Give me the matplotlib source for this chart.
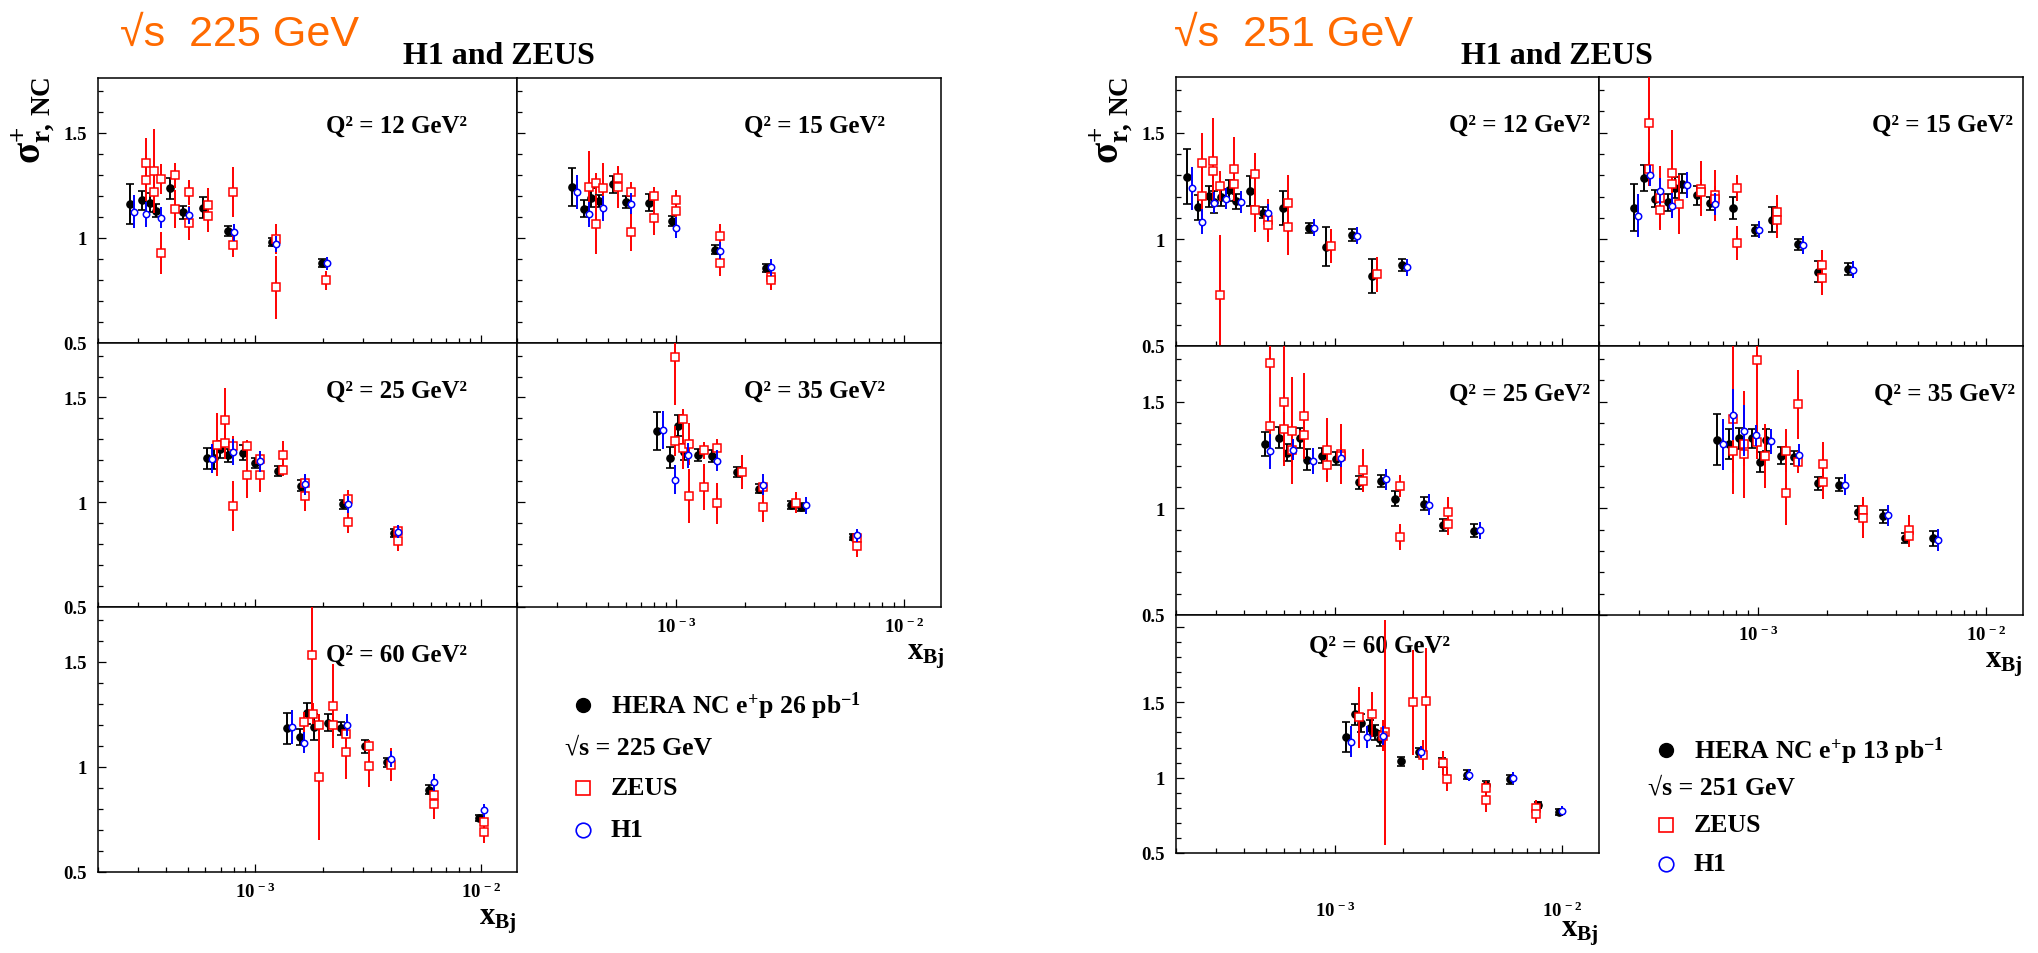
import numpy as np
import matplotlib
matplotlib.use("Agg")
import matplotlib.pyplot as plt
from matplotlib.ticker import FixedLocator, LogLocator, MultipleLocator, NullFormatter, FuncFormatter
from matplotlib.lines import Line2D

plt.rcParams['font.family'] = ['Liberation Serif', 'DejaVu Serif']
plt.rcParams['font.weight'] = 'bold'
plt.rcParams['mathtext.fontset'] = 'custom'
plt.rcParams['mathtext.rm'] = 'Liberation Serif'
plt.rcParams['mathtext.bf'] = 'Liberation Serif:bold'
plt.rcParams['mathtext.it'] = 'Liberation Serif:italic'

# ---- data: (x_Bj, sigma_r, error) ----
# sqrt(s) = 225 GeV
L12_HERA = [(2.76e-4, 1.160, 0.095), (3.13e-4, 1.179, 0.045), (3.40e-4, 1.168, 0.045), (3.62e-4, 1.129, 0.03),
            (4.19e-4, 1.235, 0.05), (4.78e-4, 1.121, 0.03), (5.88e-4, 1.143, 0.05), (7.58e-4, 1.032, 0.025),
            (1.18e-3, 0.981, 0.02), (1.97e-3, 0.879, 0.02)]
L12_H1 = [(2.90e-4, 1.125, 0.08), (3.27e-4, 1.111, 0.06), (3.79e-4, 1.095, 0.05), (5.05e-4, 1.108, 0.04),
          (8.01e-4, 1.027, 0.04), (1.24e-3, 0.971, 0.04), (2.07e-3, 0.879, 0.03)]
L12_ZEUS = [(3.27e-4, 1.357, 0.12), (3.27e-4, 1.275, 0.1), (3.56e-4, 1.317, 0.2), (3.56e-4, 1.219, 0.08),
            (3.80e-4, 1.279, 0.07), (3.80e-4, 0.927, 0.1), (4.41e-4, 1.298, 0.06), (4.41e-4, 1.138, 0.09),
            (5.05e-4, 1.217, 0.06), (5.05e-4, 1.071, 0.08), (6.17e-4, 1.157, 0.08), (6.17e-4, 1.106, 0.08),
            (7.96e-4, 1.217, 0.12), (7.96e-4, 0.967, 0.06), (1.24e-3, 0.995, 0.07), (1.24e-3, 0.765, 0.15),
            (2.06e-3, 0.798, 0.045)]

L15_HERA = [(3.48e-4, 1.243, 0.09), (3.94e-4, 1.138, 0.04), (4.23e-4, 1.190, 0.045), (4.56e-4, 1.175, 0.03),
            (5.29e-4, 1.254, 0.04), (6.04e-4, 1.171, 0.03), (7.61e-4, 1.168, 0.04), (9.57e-4, 1.081, 0.025),
            (1.48e-3, 0.944, 0.02), (2.47e-3, 0.857, 0.02)]
L15_H1 = [(3.66e-4, 1.219, 0.08), (4.14e-4, 1.111, 0.06), (4.79e-4, 1.140, 0.06), (6.34e-4, 1.162, 0.05),
          (1.00e-3, 1.049, 0.05), (1.55e-3, 0.938, 0.04), (2.59e-3, 0.859, 0.04)]
L15_ZEUS = [(4.14e-4, 1.243, 0.17), (4.44e-4, 1.259, 0.05), (4.44e-4, 1.065, 0.14), (4.79e-4, 1.235, 0.12),
            (5.57e-4, 1.286, 0.05), (5.57e-4, 1.243, 0.1), (6.34e-4, 1.216, 0.05), (6.34e-4, 1.029, 0.09),
            (8.02e-4, 1.200, 0.04), (8.02e-4, 1.092, 0.08), (1.00e-3, 1.179, 0.05), (1.00e-3, 1.129, 0.05),
            (1.55e-3, 1.008, 0.06), (1.55e-3, 0.879, 0.06), (2.59e-3, 0.813, 0.05), (2.59e-3, 0.800, 0.05)]

L25_HERA = [(6.08e-4, 1.211, 0.05), (6.52e-4, 1.211, 0.05), (6.94e-4, 1.252, 0.04), (7.56e-4, 1.224, 0.03),
            (8.77e-4, 1.237, 0.035), (1.00e-3, 1.187, 0.025), (1.26e-3, 1.148, 0.025), (1.59e-3, 1.079, 0.025),
            (2.46e-3, 0.990, 0.02), (4.11e-3, 0.854, 0.02)]
L25_H1 = [(6.43e-4, 1.208, 0.07), (7.96e-4, 1.240, 0.06), (1.05e-3, 1.195, 0.05), (1.66e-3, 1.086, 0.05),
          (2.58e-3, 0.990, 0.04), (4.31e-3, 0.859, 0.03)]
L25_ZEUS = [(6.74e-4, 1.275, 0.15), (7.30e-4, 1.394, 0.15), (7.30e-4, 1.284, 0.08), (7.93e-4, 1.268, 0.05),
            (7.93e-4, 0.983, 0.12), (9.20e-4, 1.268, 0.03), (9.20e-4, 1.130, 0.11), (1.05e-3, 1.205, 0.04),
            (1.05e-3, 1.130, 0.08), (1.33e-3, 1.224, 0.07), (1.33e-3, 1.156, 0.03), (1.66e-3, 1.092, 0.04),
            (1.66e-3, 1.030, 0.07), (2.58e-3, 1.017, 0.04), (2.58e-3, 0.905, 0.05), (4.31e-3, 0.863, 0.03),
            (4.31e-3, 0.816, 0.05)]

L35_HERA = [(8.26e-4, 1.339, 0.09), (9.37e-4, 1.212, 0.05), (1.02e-3, 1.365, 0.05), (1.08e-3, 1.240, 0.04),
            (1.25e-3, 1.225, 0.03), (1.44e-3, 1.220, 0.03), (1.84e-3, 1.145, 0.025), (2.30e-3, 1.065, 0.02),
            (3.19e-3, 0.986, 0.02), (3.54e-3, 0.978, 0.02), (5.94e-3, 0.833, 0.015)]
L35_H1 = [(8.73e-4, 1.344, 0.09), (9.87e-4, 1.108, 0.07), (1.13e-3, 1.225, 0.06), (1.51e-3, 1.197, 0.05),
          (2.39e-3, 1.084, 0.05), (3.72e-3, 0.986, 0.04), (6.19e-3, 0.842, 0.03)]
L35_ZEUS = [(9.87e-4, 1.694, 0.23), (9.87e-4, 1.293, 0.07), (1.07e-3, 1.396, 0.05), (1.07e-3, 1.260, 0.1),
            (1.14e-3, 1.279, 0.1), (1.14e-3, 1.030, 0.13), (1.32e-3, 1.248, 0.04), (1.32e-3, 1.072, 0.11),
            (1.51e-3, 1.261, 0.04), (1.51e-3, 0.994, 0.1), (1.94e-3, 1.145, 0.08), (2.41e-3, 1.073, 0.03),
            (2.41e-3, 0.978, 0.07), (3.35e-3, 0.997, 0.05), (6.19e-3, 0.831, 0.03), (6.19e-3, 0.791, 0.05)]

L60_HERA = [(1.38e-3, 1.183, 0.075), (1.58e-3, 1.142, 0.04), (1.70e-3, 1.255, 0.05), (1.82e-3, 1.189, 0.06),
            (2.10e-3, 1.209, 0.04), (2.41e-3, 1.183, 0.03), (3.05e-3, 1.097, 0.03), (3.82e-3, 1.021, 0.02),
            (5.92e-3, 0.892, 0.02), (9.87e-3, 0.756, 0.015)]
L60_H1 = [(1.45e-3, 1.188, 0.08), (1.64e-3, 1.115, 0.05), (2.54e-3, 1.199, 0.05), (3.99e-3, 1.037, 0.04),
          (6.21e-3, 0.927, 0.04), (1.03e-2, 0.793, 0.03)]
L60_ZEUS = [(1.78e-3, 1.530, 0.3), (1.65e-3, 1.212, 0.05), (1.81e-3, 1.252, 0.05), (1.91e-3, 1.201, 0.05),
            (1.91e-3, 0.951, 0.3), (2.21e-3, 1.291, 0.2), (2.21e-3, 1.199, 0.05), (2.52e-3, 1.158, 0.04),
            (2.52e-3, 1.072, 0.13), (3.20e-3, 1.097, 0.03), (3.20e-3, 1.002, 0.1), (3.99e-3, 1.011, 0.08),
            (6.21e-3, 0.868, 0.04), (6.21e-3, 0.822, 0.07), (1.03e-2, 0.740, 0.03), (1.03e-2, 0.689, 0.05)]

# sqrt(s) = 251 GeV
R12_HERA = [(2.24e-4, 1.293, 0.13), (2.49e-4, 1.149, 0.06), (2.79e-4, 1.201, 0.05), (2.94e-4, 1.174, 0.05),
            (3.16e-4, 1.196, 0.04), (3.43e-4, 1.229, 0.05), (3.66e-4, 1.179, 0.035), (4.22e-4, 1.227, 0.07),
            (4.83e-4, 1.125, 0.025), (5.93e-4, 1.146, 0.08), (7.67e-4, 1.053, 0.025), (9.09e-4, 0.966, 0.09),
            (1.19e-3, 1.020, 0.03), (1.46e-3, 0.828, 0.08), (1.97e-3, 0.879, 0.03)]
R12_H1 = [(2.35e-4, 1.238, 0.1), (2.61e-4, 1.083, 0.06), (2.94e-4, 1.171, 0.05), (3.33e-4, 1.190, 0.05),
          (3.85e-4, 1.174, 0.05), (5.07e-4, 1.125, 0.04), (8.05e-4, 1.053, 0.04), (1.25e-3, 1.017, 0.04),
          (2.07e-3, 0.868, 0.04)]
R12_ZEUS = [(2.61e-4, 1.359, 0.14), (2.61e-4, 1.202, 0.15), (2.92e-4, 1.368, 0.2), (2.92e-4, 1.320, 0.1),
            (3.11e-4, 1.249, 0.07), (3.11e-4, 0.741, 0.28), (3.61e-4, 1.328, 0.15), (3.61e-4, 1.257, 0.07),
            (4.44e-4, 1.304, 0.1), (4.44e-4, 1.135, 0.1), (5.07e-4, 1.088, 0.1), (5.07e-4, 1.069, 0.06),
            (6.22e-4, 1.171, 0.13), (6.22e-4, 1.056, 0.13), (9.60e-4, 0.967, 0.08), (1.53e-3, 0.835, 0.08)]

R15_HERA = [(2.84e-4, 1.147, 0.11), (3.16e-4, 1.287, 0.06), (3.53e-4, 1.190, 0.04), (4.01e-4, 1.174, 0.04),
            (4.29e-4, 1.241, 0.05), (4.62e-4, 1.260, 0.045), (5.37e-4, 1.205, 0.045), (6.11e-4, 1.169, 0.03),
            (7.71e-4, 1.147, 0.05), (9.66e-4, 1.042, 0.025), (1.15e-3, 1.092, 0.06), (1.49e-3, 0.976, 0.025),
            (1.83e-3, 0.848, 0.05), (2.48e-3, 0.861, 0.03)]
R15_H1 = [(2.98e-4, 1.111, 0.1), (3.34e-4, 1.299, 0.05), (3.70e-4, 1.226, 0.06), (4.18e-4, 1.158, 0.06),
          (4.85e-4, 1.255, 0.06), (6.43e-4, 1.165, 0.05), (1.01e-3, 1.045, 0.04), (1.57e-3, 0.973, 0.04),
          (2.61e-3, 0.857, 0.04)]
R15_ZEUS = [(3.32e-4, 1.544, 0.25), (3.32e-4, 1.328, 0.08), (3.70e-4, 1.193, 0.15), (3.70e-4, 1.135, 0.08),
            (4.20e-4, 1.310, 0.2), (4.20e-4, 1.257, 0.06), (4.51e-4, 1.163, 0.14), (5.61e-4, 1.237, 0.13),
            (5.61e-4, 1.221, 0.06), (6.43e-4, 1.205, 0.12), (6.43e-4, 1.190, 0.06), (8.08e-4, 1.241, 0.06),
            (8.08e-4, 0.984, 0.08), (1.21e-3, 1.127, 0.08), (1.21e-3, 1.088, 0.08), (1.91e-3, 0.881, 0.07),
            (1.91e-3, 0.817, 0.08)]

R25_HERA = [(4.93e-4, 1.302, 0.055), (5.69e-4, 1.330, 0.05), (6.15e-4, 1.260, 0.04), (7.00e-4, 1.329, 0.045),
            (7.57e-4, 1.227, 0.05), (8.79e-4, 1.247, 0.035), (1.01e-3, 1.232, 0.03), (1.27e-3, 1.122, 0.03),
            (1.60e-3, 1.128, 0.03), (1.84e-3, 1.044, 0.035), (2.47e-3, 1.022, 0.03), (2.99e-3, 0.922, 0.03),
            (4.09e-3, 0.894, 0.03)]
R25_H1 = [(5.18e-4, 1.266, 0.08), (6.52e-4, 1.275, 0.05), (7.99e-4, 1.222, 0.06), (1.06e-3, 1.235, 0.04),
          (1.68e-3, 1.135, 0.05), (2.59e-3, 1.017, 0.05), (4.34e-3, 0.897, 0.04)]
R25_ZEUS = [(5.18e-4, 1.682, 0.3), (5.18e-4, 1.387, 0.15), (5.97e-4, 1.496, 0.3), (5.97e-4, 1.372, 0.08),
            (6.48e-4, 1.363, 0.25), (6.48e-4, 1.275, 0.08), (7.34e-4, 1.432, 0.2), (7.34e-4, 1.344, 0.06),
            (9.25e-4, 1.275, 0.15), (9.25e-4, 1.203, 0.06), (1.06e-3, 1.254, 0.14), (1.06e-3, 1.243, 0.06),
            (1.33e-3, 1.178, 0.1), (1.33e-3, 1.130, 0.05), (1.93e-3, 1.105, 0.05), (1.93e-3, 0.865, 0.06),
            (3.14e-3, 0.981, 0.07), (3.14e-3, 0.925, 0.05)]

R35_HERA = [(6.60e-4, 1.322, 0.12), (7.40e-4, 1.303, 0.07), (8.26e-4, 1.327, 0.05), (9.35e-4, 1.327, 0.045),
            (1.02e-3, 1.217, 0.045), (1.08e-3, 1.319, 0.05), (1.26e-3, 1.245, 0.04), (1.44e-3, 1.239, 0.03),
            (1.83e-3, 1.117, 0.03), (2.27e-3, 1.111, 0.03), (2.75e-3, 0.981, 0.03), (3.52e-3, 0.963, 0.03),
            (4.38e-3, 0.861, 0.025), (5.87e-3, 0.859, 0.035)]
R35_H1 = [(6.97e-4, 1.300, 0.12), (7.76e-4, 1.438, 0.12), (8.69e-4, 1.363, 0.12), (9.80e-4, 1.341, 0.05),
          (1.14e-3, 1.313, 0.06), (1.51e-3, 1.250, 0.05), (2.40e-3, 1.111, 0.05), (3.70e-3, 0.967, 0.05),
          (6.15e-3, 0.852, 0.05)]
R35_ZEUS = [(7.76e-4, 1.417, 0.35), (7.76e-4, 1.267, 0.1), (8.69e-4, 1.300, 0.25), (8.69e-4, 1.256, 0.06),
            (9.84e-4, 1.694, 0.35), (9.84e-4, 1.311, 0.08), (1.07e-3, 1.245, 0.15), (1.32e-3, 1.269, 0.1),
            (1.32e-3, 1.073, 0.15), (1.50e-3, 1.486, 0.16), (1.50e-3, 1.217, 0.05), (1.93e-3, 1.209, 0.1),
            (1.93e-3, 1.123, 0.08), (2.89e-3, 0.991, 0.06), (2.89e-3, 0.953, 0.09), (4.58e-3, 0.897, 0.07),
            (4.58e-3, 0.870, 0.05)]

R60_HERA = [(1.12e-3, 1.27, 0.10), (1.22e-3, 1.42, 0.07), (1.30e-3, 1.36, 0.06), (1.42e-3, 1.33, 0.05),
            (1.50e-3, 1.30, 0.05), (1.58e-3, 1.26, 0.05), (1.95e-3, 1.11, 0.03), (2.35e-3, 1.17, 0.03),
            (2.95e-3, 1.10, 0.03), (3.80e-3, 1.02, 0.03), (4.60e-3, 0.95, 0.025), (5.90e-3, 0.99, 0.03),
            (7.80e-3, 0.82, 0.02), (9.70e-3, 0.77, 0.02)]
R60_H1 = [(1.18e-3, 1.24, 0.1), (1.38e-3, 1.27, 0.07), (1.62e-3, 1.28, 0.06), (2.40e-3, 1.17, 0.04),
          (3.90e-3, 1.02, 0.04), (6.10e-3, 1.00, 0.04), (1.00e-2, 0.78, 0.03)]
R60_ZEUS = [(1.28e-3, 1.40, 0.2), (1.45e-3, 1.42, 0.15), (1.66e-3, 1.30, 0.75), (1.62e-3, 1.28, 0.1),
            (2.21e-3, 1.50, 0.35), (2.52e-3, 1.51, 0.35), (2.45e-3, 1.15, 0.1), (3.00e-3, 1.10, 0.08),
            (3.10e-3, 0.99, 0.08), (4.60e-3, 0.85, 0.08), (4.60e-3, 0.93, 0.05), (7.70e-3, 0.80, 0.05),
            (7.70e-3, 0.76, 0.06)]

W, H = 2038, 954
fig = plt.figure(figsize=(W / 100, H / 100), dpi=100)


def box(x0, y0, x1, y1):
    return [x0 / W, 1 - y1 / H, (x1 - x0) / W, (y1 - y0) / H]


def panel(rect, q2, hera, zeus, h1, ylab, xlab, qx, qha, ytop=1.76, qdy=47, xpad=7):
    ax = fig.add_axes(box(*rect))
    ax.set_xscale('log')
    ax.set_xlim(2.0e-4, 1.45e-2)
    ax.set_ylim(0.5, ytop)

    x, y, e = np.array(hera).T
    ax.errorbar(x, y, yerr=e, fmt='o', color='black', ms=5.2, elinewidth=1.4,
                capsize=2.8, capthick=1.2, zorder=3)
    x, y, e = np.array(zeus).T
    ax.errorbar(x, y, yerr=e, fmt='s', color='red', mfc='white', mec='red', ms=5.2,
                mew=1.1, elinewidth=1.4, zorder=4)
    x, y, e = np.array(h1).T
    ax.errorbar(x, y, yerr=e, fmt='o', color='blue', mfc='white', mec='blue', ms=4.6,
                mew=1.1, elinewidth=1.4, zorder=5)

    ax.xaxis.set_major_locator(FixedLocator([1e-3, 1e-2]))
    ax.xaxis.set_minor_locator(LogLocator(base=10, subs=np.arange(2, 10), numticks=30))
    ax.xaxis.set_minor_formatter(NullFormatter())
    ax.xaxis.set_major_formatter(FuncFormatter(
        lambda v, p: r'$\mathbf{10^{\,%d}}$' % round(np.log10(v))))
    ax.yaxis.set_major_locator(MultipleLocator(0.5))
    ax.yaxis.set_minor_locator(MultipleLocator(0.1))
    ax.yaxis.set_major_formatter(FuncFormatter(lambda v, p: '%g' % v if v < 1.9 else ''))
    ax.tick_params(which='both', direction='in', top=False, right=False, width=0.9,
                   labelsize=13.5, labelleft=ylab, labelbottom=xlab)
    ax.tick_params(axis='y', which='major', length=6, pad=8)
    ax.tick_params(axis='x', which='major', length=6, pad=xpad)
    ax.tick_params(which='minor', length=3.3)
    for s in ax.spines.values():
        s.set_linewidth(1.1)
    ax.text(qx, 1 - qdy / (rect[3] - rect[1]), 'Q² = %d GeV²' % q2, transform=ax.transAxes,
            ha=qha, va='center', fontsize=18, fontweight='bold')
    return ax


# left figure: sqrt(s) = 225 GeV
LX = [98, 517, 941]
LY = [79, 344, 608, 873]
panel((LX[0], LY[0], LX[1], LY[1]), 12, L12_HERA, L12_ZEUS, L12_H1, True, False, 1 - 50 / 419, 'right')
panel((LX[1], LY[0], LX[2], LY[1]), 15, L15_HERA, L15_ZEUS, L15_H1, False, False, 1 - 56 / 424, 'right')
panel((LX[0], LY[1], LX[1], LY[2]), 25, L25_HERA, L25_ZEUS, L25_H1, True, False, 1 - 50 / 419, 'right')
panel((LX[1], LY[1], LX[2], LY[2]), 35, L35_HERA, L35_ZEUS, L35_H1, False, True, 1 - 56 / 424, 'right')
panel((LX[0], LY[2], LX[1], LY[3]), 60, L60_HERA, L60_ZEUS, L60_H1, True, True, 1 - 50 / 419, 'right')

# right figure: sqrt(s) = 251 GeV (bottom pad has a shorter frame)
RX = [1176, 1599, 2023]
RY = [78, 347, 616, 854]
panel((RX[0], RY[0], RX[1], RY[1]), 12, R12_HERA, R12_ZEUS, R12_H1, True, False, 1 - 9 / 423, 'right')
panel((RX[1], RY[0], RX[2], RY[1]), 15, R15_HERA, R15_ZEUS, R15_H1, False, False, 1 - 10 / 424, 'right')
panel((RX[0], RY[1], RX[1], RY[2]), 25, R25_HERA, R25_ZEUS, R25_H1, True, False, 1 - 9 / 423, 'right')
panel((RX[1], RY[1], RX[2], RY[2]), 35, R35_HERA, R35_ZEUS, R35_H1, False, True, 1 - 8 / 424, 'right')
panel((RX[0], RY[2], RX[1], RY[3]), 60, R60_HERA, R60_ZEUS, R60_H1, True, True, 0.48, 'center',
      ytop=2.08, qdy=30, xpad=34)

# overlay in pixel coordinates for titles, axis labels and legends
ov = fig.add_axes([0, 0, 1, 1])
ov.set_xlim(0, W)
ov.set_ylim(H, 0)
ov.axis('off')

for x0, energy, lumi, xr, yl, xb1, xb2, leg_x, leg_y in [
        (120, 225, 26, 403, 33, (945, 660), (517, 925), 583, [706, 748, 789, 831]),
        (1174, 251, 13, 1461, 1111, (2023, 668), (1599, 937), 1666, [751, 788, 826, 865])]:
    ov.text(x0, 35, '√s  %d GeV' % energy, color='#ff6a00', fontsize=31, fontweight='normal',
            family=['Liberation Sans', 'DejaVu Sans'], ha='left', va='center')
    ov.text(xr, 56, 'H1 and ZEUS', fontsize=23, fontweight='bold', ha='left', va='center')
    ov.text(yl, 120, r'$\mathbf{\sigma^{+}_{r,\,NC}}$', fontsize=28, rotation=90,
            ha='center', va='center')
    # x axis titles
    ov.text(xb1[0], xb1[1], r'$\mathbf{x_{Bj}}$', fontsize=22, ha='right', va='baseline')
    ov.text(xb2[0], xb2[1], r'$\mathbf{x_{Bj}}$', fontsize=22, ha='right', va='baseline')
    # legend
    mx = leg_x
    ov.add_line(Line2D([mx], [leg_y[0]], marker='o', color='black', ms=10, ls='none'))
    ov.text(mx + 28, leg_y[0], r'$\mathbf{HERA\ NC\ e^{+}p\ %d\ pb^{-1}}$' % lumi, fontsize=18.5,
            ha='left', va='center')
    ov.text(mx - 18, leg_y[1], '√s = %d GeV' % energy, fontsize=18.5, fontweight='bold',
            ha='left', va='center')
    ov.add_line(Line2D([mx], [leg_y[2]], marker='s', color='red', mfc='white', ms=10.5, mew=1.2, ls='none'))
    ov.text(mx + 28, leg_y[2], 'ZEUS', fontsize=18.5, fontweight='bold', ha='left', va='center')
    ov.add_line(Line2D([mx], [leg_y[3]], marker='o', color='blue', mfc='white', ms=10.5, mew=1.2, ls='none'))
    ov.text(mx + 28, leg_y[3], 'H1', fontsize=18.5, fontweight='bold', ha='left', va='center')

fig.savefig('out.png', dpi=100)
